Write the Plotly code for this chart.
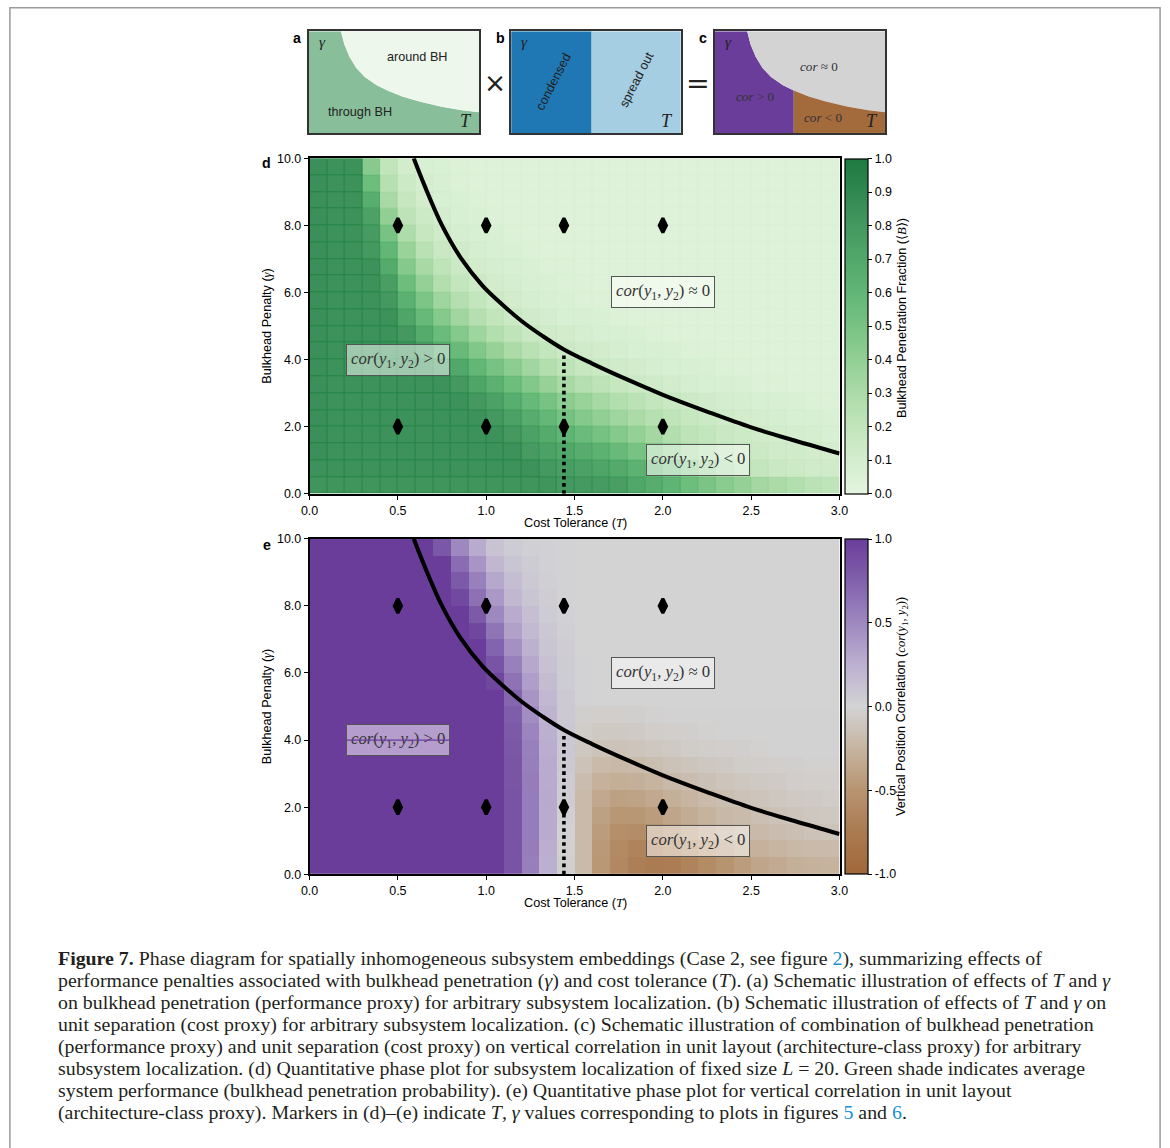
import plotly.graph_objects as go

# The photographed page shows the figure offset by the default 8px body margin and
# scaled by ~0.9865; reference pixel p therefore maps to figure pixel p / S - OFF.
S = 0.9865
OFF = 8
W, H = 1170, 1148


def fx(px):
    return px / S - OFF


def X(px):
    return fx(px) / W


def Y(py):
    return 1 - fx(py) / H


def F(size):
    return size / S


# ---------------------------------------------------------------- data
T_cells = [0.05, 0.15, 0.25, 0.35, 0.45, 0.55, 0.65, 0.75, 0.85, 0.95,
           1.05, 1.15, 1.25, 1.35, 1.45, 1.55, 1.65, 1.75, 1.85, 1.95,
           2.05, 2.15, 2.25, 2.35, 2.45, 2.55, 2.65, 2.75, 2.85, 2.95]
gamma_cells_top_down = [9.75, 9.25, 8.75, 8.25, 7.75, 7.25, 6.75, 6.25, 5.75, 5.25,
                        4.75, 4.25, 3.75, 3.25, 2.75, 2.25, 1.75, 1.25, 0.75, 0.25]

# Bulkhead penetration fraction <B>, rows from gamma = 9.75 (top) to 0.25 (bottom)
B_rows = [
    [.85, .84, .84, .44, .20, .11, .08, .06, .05, .04, .04, .04, .04, .04, .04, .04, .04, .04, .04, .04, .04, .04, .04, .04, .04, .04, .04, .04, .04, .04],
    [.85, .84, .84, .55, .25, .14, .09, .07, .05, .04, .04, .04, .04, .04, .04, .04, .04, .04, .04, .04, .04, .04, .04, .04, .04, .04, .04, .04, .04, .04],
    [.85, .84, .84, .66, .31, .17, .11, .08, .06, .05, .04, .04, .04, .04, .04, .04, .04, .04, .04, .04, .04, .04, .04, .04, .04, .04, .04, .04, .04, .04],
    [.85, .84, .84, .74, .40, .22, .14, .10, .07, .06, .05, .04, .04, .04, .04, .04, .04, .04, .04, .04, .04, .04, .04, .04, .04, .04, .04, .04, .04, .04],
    [.85, .84, .84, .78, .50, .29, .18, .13, .09, .07, .06, .05, .04, .04, .04, .04, .04, .04, .04, .04, .04, .04, .04, .04, .04, .04, .04, .04, .04, .04],
    [.85, .84, .84, .80, .60, .37, .24, .16, .12, .09, .07, .06, .05, .04, .04, .04, .04, .04, .04, .04, .04, .04, .04, .04, .04, .04, .04, .04, .04, .04],
    [.85, .84, .84, .84, .68, .45, .31, .21, .15, .11, .09, .07, .06, .05, .05, .04, .04, .04, .04, .04, .04, .04, .04, .04, .04, .04, .04, .04, .04, .04],
    [.85, .84, .84, .84, .76, .55, .39, .27, .19, .14, .11, .09, .07, .06, .05, .05, .04, .04, .04, .04, .04, .04, .04, .04, .04, .04, .04, .04, .04, .04],
    [.85, .84, .84, .84, .80, .64, .48, .35, .26, .19, .14, .11, .09, .07, .06, .05, .05, .04, .04, .04, .04, .04, .04, .04, .04, .04, .04, .04, .04, .04],
    [.85, .84, .84, .84, .84, .72, .58, .45, .34, .26, .20, .15, .12, .10, .08, .07, .06, .05, .04, .04, .04, .04, .04, .04, .04, .04, .04, .04, .04, .04],
    [.85, .84, .84, .84, .84, .80, .68, .56, .45, .35, .27, .21, .16, .13, .11, .09, .08, .07, .06, .05, .04, .04, .04, .04, .04, .04, .04, .04, .04, .04],
    [.85, .84, .84, .84, .84, .84, .78, .68, .57, .47, .38, .30, .24, .19, .15, .13, .11, .09, .08, .07, .06, .05, .05, .04, .04, .04, .04, .04, .04, .04],
    [.85, .84, .84, .84, .84, .84, .84, .78, .70, .60, .50, .42, .34, .27, .22, .18, .15, .13, .11, .09, .08, .07, .06, .05, .05, .04, .04, .04, .04, .04],
    [.85, .84, .84, .84, .84, .84, .84, .84, .80, .72, .64, .55, .46, .38, .31, .26, .22, .18, .15, .13, .11, .09, .08, .07, .06, .05, .05, .04, .04, .04],
    [.85, .84, .84, .84, .84, .84, .84, .84, .84, .80, .74, .66, .58, .50, .42, .37, .32, .27, .23, .19, .16, .14, .12, .10, .09, .08, .07, .06, .05, .05],
    [.85, .84, .84, .84, .84, .84, .84, .84, .84, .84, .80, .74, .67, .59, .51, .45, .40, .35, .30, .25, .21, .18, .15, .13, .11, .10, .09, .08, .07, .06],
    [.85, .84, .84, .84, .84, .84, .84, .84, .84, .84, .84, .80, .74, .68, .61, .56, .51, .45, .39, .33, .27, .22, .19, .16, .14, .12, .11, .10, .09, .08],
    [.85, .84, .84, .84, .84, .84, .84, .84, .84, .84, .84, .84, .78, .74, .70, .67, .63, .57, .50, .43, .36, .30, .25, .21, .18, .15, .13, .12, .11, .10],
    [.84, .84, .84, .84, .84, .84, .84, .84, .84, .84, .84, .84, .84, .80, .76, .74, .72, .69, .63, .56, .48, .41, .34, .28, .23, .19, .16, .14, .13, .12],
    [.82, .82, .82, .82, .82, .82, .82, .82, .82, .82, .82, .82, .82, .82, .80, .79, .78, .76, .71, .67, .62, .55, .49, .43, .39, .33, .30, .27, .23, .21],
]

# Vertical position correlation cor(y1, y2), rows from gamma = 9.75 (top) to 0.25 (bottom)
cor_rows = [
    [1.0, 1.0, 1.0, 1.0, 1.0, 1.0, 1.0, .82, .50, .28, .12, .06, .03, .02, .01, 0.0, 0.0, 0.0, 0.0, 0.0, 0.0, 0.0, 0.0, 0.0, 0.0, 0.0, 0.0, 0.0, 0.0, 0.0],
    [1.0, 1.0, 1.0, 1.0, 1.0, 1.0, 1.0, 1.0, .68, .42, .20, .10, .05, .02, .01, 0.0, 0.0, 0.0, 0.0, 0.0, 0.0, 0.0, 0.0, 0.0, 0.0, 0.0, 0.0, 0.0, 0.0, 0.0],
    [1.0, 1.0, 1.0, 1.0, 1.0, 1.0, 1.0, 1.0, .80, .55, .30, .15, .07, .03, .01, 0.0, 0.0, 0.0, 0.0, 0.0, 0.0, 0.0, 0.0, 0.0, 0.0, 0.0, 0.0, 0.0, 0.0, 0.0],
    [1.0, 1.0, 1.0, 1.0, 1.0, 1.0, 1.0, 1.0, .92, .65, .40, .20, .10, .04, .01, 0.0, 0.0, 0.0, 0.0, 0.0, 0.0, 0.0, 0.0, 0.0, 0.0, 0.0, 0.0, 0.0, 0.0, 0.0],
    [1.0, 1.0, 1.0, 1.0, 1.0, 1.0, 1.0, 1.0, 1.0, .80, .50, .28, .14, .06, .02, 0.0, 0.0, 0.0, 0.0, 0.0, 0.0, 0.0, 0.0, 0.0, 0.0, 0.0, 0.0, 0.0, 0.0, 0.0],
    [1.0, 1.0, 1.0, 1.0, 1.0, 1.0, 1.0, 1.0, 1.0, .93, .62, .35, .18, .08, .03, 0.0, 0.0, 0.0, 0.0, 0.0, 0.0, 0.0, 0.0, 0.0, 0.0, 0.0, 0.0, 0.0, 0.0, 0.0],
    [1.0, 1.0, 1.0, 1.0, 1.0, 1.0, 1.0, 1.0, 1.0, 1.0, .74, .45, .24, .10, .04, 0.0, 0.0, 0.0, 0.0, 0.0, 0.0, 0.0, 0.0, 0.0, 0.0, 0.0, 0.0, 0.0, 0.0, 0.0],
    [1.0, 1.0, 1.0, 1.0, 1.0, 1.0, 1.0, 1.0, 1.0, 1.0, .84, .55, .30, .13, .05, .01, 0.0, 0.0, 0.0, 0.0, 0.0, 0.0, 0.0, 0.0, 0.0, 0.0, 0.0, 0.0, 0.0, 0.0],
    [1.0, 1.0, 1.0, 1.0, 1.0, 1.0, 1.0, 1.0, 1.0, 1.0, .93, .64, .36, .16, .06, .01, 0.0, 0.0, 0.0, 0.0, 0.0, 0.0, 0.0, 0.0, 0.0, 0.0, 0.0, 0.0, 0.0, 0.0],
    [1.0, 1.0, 1.0, 1.0, 1.0, 1.0, 1.0, 1.0, 1.0, 1.0, 1.0, .72, .42, .19, .07, .01, 0.0, 0.0, 0.0, 0.0, 0.0, 0.0, 0.0, 0.0, 0.0, 0.0, 0.0, 0.0, 0.0, 0.0],
    [1.0, 1.0, 1.0, 1.0, 1.0, 1.0, 1.0, 1.0, 1.0, 1.0, 1.0, .78, .47, .22, .07, -.03, -.04, -.04, -.03, -.02, -.01, -.01, -.01, -.01, -.01, -.01, -.01, -.01, -.01, -.01],
    [1.0, 1.0, 1.0, 1.0, 1.0, 1.0, 1.0, 1.0, 1.0, 1.0, 1.0, .80, .52, .25, .08, -.06, -.08, -.08, -.07, -.05, -.04, -.03, -.02, -.01, -.01, -.01, -.01, -.01, -.01, -.01],
    [1.0, 1.0, 1.0, 1.0, 1.0, 1.0, 1.0, 1.0, 1.0, 1.0, 1.0, .82, .55, .27, .08, -.10, -.13, -.14, -.12, -.10, -.08, -.06, -.05, -.04, -.03, -.02, -.01, -.01, -.01, -.01],
    [1.0, 1.0, 1.0, 1.0, 1.0, 1.0, 1.0, 1.0, 1.0, 1.0, 1.0, .83, .56, .28, .07, -.14, -.20, -.22, -.20, -.17, -.14, -.12, -.10, -.08, -.06, -.05, -.04, -.03, -.02, -.02],
    [1.0, 1.0, 1.0, 1.0, 1.0, 1.0, 1.0, 1.0, 1.0, 1.0, 1.0, .83, .57, .28, .06, -.18, -.27, -.30, -.28, -.25, -.21, -.18, -.15, -.12, -.10, -.08, -.07, -.05, -.04, -.04],
    [1.0, 1.0, 1.0, 1.0, 1.0, 1.0, 1.0, 1.0, 1.0, 1.0, 1.0, .84, .58, .29, .05, -.20, -.34, -.40, -.38, -.34, -.29, -.24, -.20, -.17, -.14, -.12, -.10, -.08, -.07, -.06],
    [1.0, 1.0, 1.0, 1.0, 1.0, 1.0, 1.0, 1.0, 1.0, 1.0, 1.0, .84, .58, .28, .03, -.20, -.40, -.48, -.48, -.43, -.37, -.31, -.26, -.22, -.19, -.16, -.14, -.12, -.10, -.09],
    [1.0, 1.0, 1.0, 1.0, 1.0, 1.0, 1.0, 1.0, 1.0, 1.0, 1.0, .84, .58, .28, .01, -.20, -.44, -.55, -.57, -.53, -.46, -.39, -.33, -.28, -.24, -.21, -.18, -.16, -.14, -.13],
    [1.0, 1.0, 1.0, 1.0, 1.0, 1.0, 1.0, 1.0, 1.0, 1.0, 1.0, .84, .57, .26, -.02, -.20, -.46, -.60, -.65, -.64, -.58, -.50, -.43, -.37, -.31, -.27, -.24, -.22, -.20, -.19],
    [1.0, 1.0, 1.0, 1.0, 1.0, 1.0, 1.0, 1.0, 1.0, 1.0, 1.0, .84, .56, .25, -.03, -.20, -.47, -.62, -.70, -.74, -.72, -.66, -.58, -.50, -.43, -.37, -.33, -.29, -.27, -.26],
]

# phase boundary (black curve)
boundary_T = [0.59, 0.65, 0.75, 0.86, 0.98, 1.10, 1.20, 1.32, 1.44, 1.60, 1.80, 2.00, 2.25, 2.50, 2.75, 3.00]
boundary_gamma = [10.0, 9.2, 8.0, 7.0, 6.2, 5.6, 5.15, 4.7, 4.3, 3.88, 3.4, 2.95, 2.45, 1.98, 1.58, 1.20]

# dotted critical cost tolerance
critical_T = [1.44, 1.44]
critical_gamma = [0.0, 4.2]

# markers (T, gamma) used in figures 5 and 6
marker_T = [0.5, 1.0, 1.44, 2.0, 0.5, 1.0, 1.44, 2.0]
marker_gamma = [8.0, 8.0, 8.0, 8.0, 2.0, 2.0, 2.0, 2.0]

# schematic boundary (normalised T, gamma) for panels a and c
schem_x = [0.19, 0.21, 0.24, 0.28, 0.33, 0.40, 0.463, 0.55, 0.65, 0.78, 0.90, 1.0]
schem_y = [1.0, 0.87, 0.75, 0.64, 0.55, 0.47, 0.418, 0.36, 0.31, 0.26, 0.225, 0.206]
split_b = 0.474   # condensed | spread out
split_c = 0.463   # cor>0 | cor<0

assert all(len(r) == 30 for r in B_rows) and len(B_rows) == 20
assert all(len(r) == 30 for r in cor_rows) and len(cor_rows) == 20

# ---------------------------------------------------------------- styles
SANS = "Liberation Sans"
SERIF = "Liberation Serif"

green_stops = [(0.0, (228, 245, 224)), (0.1, (212, 237, 206)), (0.2, (194, 229, 188)),
               (0.3, (172, 219, 168)), (0.4, (146, 207, 148)), (0.5, (120, 195, 132)),
               (0.6, (98, 182, 118)), (0.7, (82, 168, 106)), (0.8, (68, 152, 96)),
               (0.9, (48, 136, 80)), (1.0, (30, 122, 64))]
greens = [[p, "rgb(%d,%d,%d)" % c] for p, c in green_stops]
greens_dark = [[p, "rgb(%d,%d,%d)" % tuple(max(0, int(v - 0.12 * (255 - v))) for v in c)]
               for p, c in green_stops]

pb_stops = [(0.0, (160, 104, 58)), (0.125, (170, 122, 80)), (0.25, (183, 148, 112)),
            (0.375, (198, 180, 160)), (0.5, (211, 211, 212)), (0.625, (188, 176, 208)),
            (0.75, (158, 136, 192)), (0.875, (129, 97, 172)), (1.0, (106, 61, 154))]
purple_brown = [[p, "rgb(%d,%d,%d)" % c] for p, c in pb_stops]

B_z = B_rows[::-1]
cor_z = cor_rows[::-1]
gamma_cells = gamma_cells_top_down[::-1]

d_top, d_bot = 159, 494
e_top, e_bot = 539, 874
x_left, x_right = 309, 840

fig = go.Figure()

tickfont = dict(family=SANS, size=F(12.3), color="black")


def cbar(top, bot, **kw):
    d = dict(x=X(845), xanchor="left", y=Y((top + bot) / 2), yanchor="middle",
             len=(bot - top) / S / H, thickness=F(23), xpad=0, ypad=0,
             outlinewidth=1.2, outlinecolor="black", ticks="outside", ticklen=F(4),
             tickcolor="black", tickfont=tickfont)
    d.update(kw)
    return d


# ---- panel d heatmap (darker under-layer shows through the cell gaps)
fig.add_trace(go.Heatmap(x=T_cells, y=gamma_cells, z=B_z, zmin=0, zmax=1,
                         colorscale=greens_dark, showscale=False, hoverinfo="skip",
                         xaxis="x", yaxis="y"))
fig.add_trace(go.Heatmap(
    x=T_cells, y=gamma_cells, z=B_z, zmin=0, zmax=1, colorscale=greens,
    xgap=1, ygap=1, hoverinfo="skip", xaxis="x", yaxis="y",
    colorbar=cbar(d_top, d_bot, tickvals=[0.0, 0.1, 0.2, 0.3, 0.4, 0.5, 0.6, 0.7, 0.8, 0.9, 1.0],
                  tickformat=".1f")))

# ---- panel e heatmap
fig.add_trace(go.Heatmap(
    x=T_cells, y=gamma_cells, z=cor_z, zmin=-1, zmax=1, colorscale=purple_brown,
    hoverinfo="skip", xaxis="x2", yaxis="y2",
    colorbar=cbar(e_top, e_bot, tickvals=[-1.0, -0.5, 0.0, 0.5, 1.0],
                  ticktext=["-1.0", "-0.5", "0.0", "0.5", "1.0"])))

for xa, ya in (("x", "y"), ("x2", "y2")):
    fig.add_trace(go.Scatter(x=boundary_T, y=boundary_gamma, mode="lines",
                             line=dict(color="black", width=F(4), shape="spline", smoothing=1.0),
                             xaxis=xa, yaxis=ya, hoverinfo="skip", showlegend=False))
    fig.add_trace(go.Scatter(x=critical_T, y=critical_gamma, mode="lines",
                             line=dict(color="black", width=F(3.5), dash="dot"),
                             xaxis=xa, yaxis=ya, hoverinfo="skip", showlegend=False))
    fig.add_trace(go.Scatter(x=marker_T, y=marker_gamma, mode="markers",
                             marker=dict(symbol="diamond-tall", size=F(10), color="black",
                                         line=dict(color="black", width=3.2)),
                             xaxis=xa, yaxis=ya, hoverinfo="skip", showlegend=False))

# ---- schematic panels a, b, c
def fill(xs, ys, color, xa, ya):
    fig.add_trace(go.Scatter(x=xs, y=ys, mode="lines", fill="toself", fillcolor=color,
                             line=dict(width=0, color=color), xaxis=xa, yaxis=ya,
                             hoverinfo="skip", showlegend=False))

# a
fill([0, 0] + schem_x + [1, 0], [0, 1] + schem_y + [0, 0], "#88bf9a", "x3", "y3")
fill(schem_x + [1, schem_x[0]], schem_y + [1, 1], "#eef7ec", "x3", "y3")
# b
fill([0, 0, split_b, split_b, 0], [0, 1, 1, 0, 0], "#1f78b4", "x4", "y4")
fill([split_b, split_b, 1, 1, split_b], [0, 1, 1, 0, 0], "#a6cee3", "x4", "y4")
# c
left_x = [v for v in schem_x if v <= split_c]
left_y = [schem_y[i] for i, v in enumerate(schem_x) if v <= split_c]
right_x = [v for v in schem_x if v >= split_c]
right_y = [schem_y[i] for i, v in enumerate(schem_x) if v >= split_c]
fill([0, 0] + left_x + [split_c, 0], [0, 1] + left_y + [0, 0], "#6a3d9a", "x5", "y5")
fill(schem_x + [1, schem_x[0]], schem_y + [1, 1], "#d3d3d3", "x5", "y5")
fill([split_c] + right_x + [1, split_c], [0] + right_y + [0, 0], "#a36a3c", "x5", "y5")

# ---------------------------------------------------------------- layout
main_ax = dict(range=[0, 3], showline=True, mirror=True, linecolor="black", linewidth=1.5,
               ticks="outside", ticklen=F(4), tickwidth=1.2, tickcolor="black",
               tickfont=tickfont, showgrid=False, zeroline=False,
               tickvals=[0.0, 0.5, 1.0, 1.5, 2.0, 2.5, 3.0], tickformat=".1f")
main_ay = dict(range=[0, 10], showline=True, mirror=True, linecolor="black", linewidth=1.5,
               ticks="outside", ticklen=F(4), tickwidth=1.2, tickcolor="black",
               tickfont=tickfont, showgrid=False, zeroline=False,
               tickvals=[0, 2, 4, 6, 8, 10], tickformat=".1f")
schem_ax = dict(range=[0, 1], showline=True, mirror=True, linecolor="#333", linewidth=1.8,
                showticklabels=False, ticks="", showgrid=False, zeroline=False, fixedrange=True)

sch_top, sch_bot = 32, 134

fig.update_layout(
    width=W, height=H, margin=dict(l=0, r=0, t=0, b=0, pad=0),
    paper_bgcolor="white", plot_bgcolor="white", showlegend=False,
    xaxis=dict(main_ax, domain=[X(x_left), X(x_right)], anchor="y"),
    yaxis=dict(main_ay, domain=[Y(d_bot), Y(d_top)], anchor="x"),
    xaxis2=dict(main_ax, domain=[X(x_left), X(x_right)], anchor="y2"),
    yaxis2=dict(main_ay, domain=[Y(e_bot), Y(e_top)], anchor="x2"),
    xaxis3=dict(schem_ax, domain=[X(308), X(479)], anchor="y3"),
    yaxis3=dict(schem_ax, domain=[Y(sch_bot), Y(sch_top)], anchor="x3"),
    xaxis4=dict(schem_ax, domain=[X(511), X(681)], anchor="y4"),
    yaxis4=dict(schem_ax, domain=[Y(sch_bot), Y(sch_top)], anchor="x4"),
    xaxis5=dict(schem_ax, domain=[X(715), X(886)], anchor="y5"),
    yaxis5=dict(schem_ax, domain=[Y(sch_bot), Y(sch_top)], anchor="x5"),
)

ann = []


def paper_text(px, py, text, size, family=SANS, color="black", anchor="center", angle=0):
    ann.append(dict(x=X(px), y=Y(py), xref="paper", yref="paper", text=text, showarrow=False,
                    xanchor=anchor, yanchor="middle", textangle=angle,
                    font=dict(family=family, size=F(size), color=color)))


def data_text(x, y, xr, yr, text, size, family=SERIF, color="#222", angle=0, **kw):
    d = dict(x=x, y=y, xref=xr, yref=yr, text=text, showarrow=False, textangle=angle,
             font=dict(family=family, size=F(size), color=color))
    d.update(kw)
    ann.append(d)


# panel letters
paper_text(296, 39, "<b>a</b>", 14)
paper_text(500, 39, "<b>b</b>", 14)
paper_text(703, 39, "<b>c</b>", 14)
paper_text(266, 164, "<b>d</b>", 14)
paper_text(266, 545, "<b>e</b>", 14)

# operators between schematics
paper_text(495, 84, "×", 26, family="DejaVu Sans", color="#222")
paper_text(698, 84, "=", 28, family="DejaVu Sans", color="#222")

# schematic labels
for xa, ya in (("x3", "y3"), ("x4", "y4"), ("x5", "y5")):
    data_text(0.08, 0.9, xa, ya, "<i>γ</i>", 15, color="#222")
    data_text(0.92, 0.12, xa, ya, "<i>T</i>", 18, color="#222")
data_text(0.64, 0.75, "x3", "y3", "around BH", 12.5, family=SANS)
data_text(0.30, 0.21, "x3", "y3", "through BH", 12.5, family=SANS)
data_text(0.25, 0.50, "x4", "y4", "condensed", 12.5, family=SANS, angle=-63)
data_text(0.74, 0.52, "x4", "y4", "spread out", 12.5, family=SANS, angle=-63)
data_text(0.61, 0.65, "x5", "y5", "<i>cor</i> ≈ 0", 13, color="#333")
data_text(0.24, 0.36, "x5", "y5", "<i>cor</i> &gt; 0", 13, color="#333")
data_text(0.64, 0.15, "x5", "y5", "<i>cor</i> &lt; 0", 13, color="#333")

# region labels in d and e
cor_txt = "<i>cor</i>(<i>y</i><sub>1</sub>, <i>y</i><sub>2</sub>) "
box = dict(bgcolor="rgba(255,255,255,0.5)", bordercolor="#555", borderwidth=1, borderpad=4)
for xa, ya in (("x", "y"), ("x2", "y2")):
    data_text(0.5, 4.0, xa, ya, cor_txt + "&gt; 0", 16.5, color="#333", **box)
    data_text(2.0, 6.0, xa, ya, cor_txt + "≈ 0", 16.5, color="#333", **box)
    data_text(2.2, 1.0, xa, ya, cor_txt + "&lt; 0", 16.5, color="#333", **box)
# purple stroke through the "> 0" box in e
ann.append(dict(x=0.80, y=4.0, ax=0.20, ay=4.0, xref="x2", yref="y2", axref="x2", ayref="y2",
                text="", showarrow=True, arrowhead=0, arrowwidth=1.2, arrowcolor="#6a3d9a",
                standoff=0, startstandoff=0))

# axis titles
for top, bot in ((d_top, d_bot), (e_top, e_bot)):
    paper_text(575, bot + 29, "Cost Tolerance (<span style='font-family:Liberation Serif'><i>T</i></span>)", 12.5)
    paper_text(266, (top + bot) / 2, "Bulkhead Penalty (<span style='font-family:Liberation Serif'><i>γ</i></span>)", 12.5, angle=-90)

paper_text(902, 318,
           "Bulkhead Penetration Fraction (<span style='font-family:Liberation Serif'>⟨<i>B</i>⟩</span>)",
           12.5, angle=-90)
paper_text(902, (e_top + e_bot) / 2,
           "Vertical Position Correlation (<span style='font-family:Liberation Serif'><i>cor</i>(<i>y</i><sub>1</sub>, <i>y</i><sub>2</sub>)</span>)",
           12.5, angle=-90)

# caption
link = "<span style='color:#1b8fd2'>%s</span>"
caption = [
    "<b>Figure 7.</b> Phase diagram for spatially inhomogeneous subsystem embeddings (Case 2, see figure " + link % "2" + "), summarizing effects of",
    "performance penalties associated with bulkhead penetration (<i>γ</i>) and cost tolerance (<i>T</i>). (a) Schematic illustration of effects of <i>T</i> and <i>γ</i>",
    "on bulkhead penetration (performance proxy) for arbitrary subsystem localization. (b) Schematic illustration of effects of <i>T</i> and <i>γ</i> on",
    "unit separation (cost proxy) for arbitrary subsystem localization. (c) Schematic illustration of combination of bulkhead penetration",
    "(performance proxy) and unit separation (cost proxy) on vertical correlation in unit layout (architecture-class proxy) for arbitrary",
    "subsystem localization. (d) Quantitative phase plot for subsystem localization of fixed size <i>L</i> = 20. Green shade indicates average",
    "system performance (bulkhead penetration probability). (e) Quantitative phase plot for vertical correlation in unit layout",
    "(architecture-class proxy). Markers in (d)–(e) indicate <i>T</i>, <i>γ</i> values corresponding to plots in figures " + link % "5" + " and " + link % "6" + ".",
]
for k, line in enumerate(caption):
    paper_text(55, 958 + 22 * k, line, 19.6, family=SERIF, color="#231f20", anchor="left")

fig.update_layout(annotations=ann)

# outer frame (as close to the page edge as the figure allows)
fig.add_shape(type="rect", xref="paper", yref="paper", x0=0.0008, x1=0.9992, y0=-0.02, y1=0.9993,
              line=dict(color="#9a9a9a", width=1.5), fillcolor="rgba(0,0,0,0)", layer="above")

fig.write_html("out.html")
